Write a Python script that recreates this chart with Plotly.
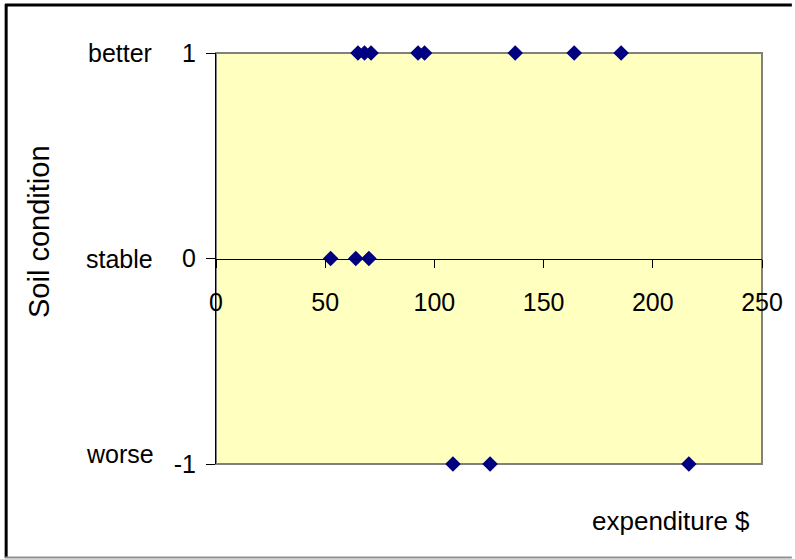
import plotly.graph_objects as go

# Survey results: spending per plot and the reported change in soil condition
expenditure = [65, 68, 71, 92.5, 95.5, 137, 164, 185.5,
               52.5, 64, 70,
               108.5, 125.5, 216.5]
condition = [1, 1, 1, 1, 1, 1, 1, 1,
             0, 0, 0,
             -1, -1, -1]

x_ticks = [0, 50, 100, 150, 200, 250]
y_ticks = [1, 0, -1]
y_tick_text = ["1", "0", "-1"]
condition_names = ["better", "stable", "worse"]

W, H = 795, 559
L, R, T, B = 216, 30, 53, 95
PW, PH = W - L - R, H - T - B


def px_x(p):
    return (p - L) / PW


def px_y(p):
    return (H - B - p) / PH


FONT = "Liberation Sans, Arial"
FS = 25

fig = go.Figure()
fig.add_trace(go.Scatter(
    x=expenditure, y=condition, mode="markers",
    marker=dict(symbol="diamond", size=12, color="#000080",
                line=dict(width=0)),
    cliponaxis=False, showlegend=False,
))

shapes = [
    # plot area frame
    dict(type="rect", xref="paper", yref="paper", x0=0, x1=1, y0=0, y1=1,
         line=dict(color="#808080", width=2), layer="below"),
    # outer chart border
    dict(type="line", xref="paper", yref="paper",
         x0=px_x(4), x1=px_x(W), y0=px_y(5), y1=px_y(5),
         line=dict(color="black", width=3)),
    dict(type="line", xref="paper", yref="paper",
         x0=px_x(5), x1=px_x(5), y0=px_y(4), y1=px_y(H - 1),
         line=dict(color="black", width=3)),
    dict(type="line", xref="paper", yref="paper",
         x0=px_x(4), x1=px_x(W), y0=px_y(H - 1.5), y1=px_y(H - 1.5),
         line=dict(color="#909090", width=2)),
]

annotations = []
for name, yv, shift in zip(condition_names, y_ticks, [0, 0, 10]):
    annotations.append(dict(
        text=name, x=px_x(119), xref="paper", y=yv, yref="y",
        xanchor="center", yanchor="middle", yshift=shift, showarrow=False,
        font=dict(family=FONT, size=FS, color="black")))
annotations.append(dict(
    text="expenditure $", x=px_x(673), y=px_y(521), xref="paper", yref="paper",
    xanchor="center", yanchor="middle", showarrow=False,
    font=dict(family=FONT, size=FS + 1, color="black")))
annotations.append(dict(
    text="Soil condition", x=px_x(38), y=px_y(231), xref="paper", yref="paper",
    xanchor="center", yanchor="middle", textangle=-90, showarrow=False,
    font=dict(family=FONT, size=29, color="black")))

fig.update_layout(
    width=W, height=H,
    margin=dict(l=L, r=R, t=T, b=B, pad=0),
    paper_bgcolor="white", plot_bgcolor="#FFFFC0",
    font=dict(family=FONT, size=FS, color="black"),
    shapes=shapes, annotations=annotations,
    xaxis=dict(range=[0, 250], tickvals=x_ticks, ticks="outside", ticklen=8,
               tickcolor="black", showline=True, linecolor="black", linewidth=1,
               showgrid=False, zeroline=False, anchor="free", position=0.5,
               ticklabelstandoff=13),
    yaxis=dict(range=[-1, 1], tickvals=y_ticks, ticktext=y_tick_text,
               ticks="outside", ticklen=9, tickcolor="black", showline=True,
               linecolor="black", linewidth=1, showgrid=False, zeroline=False,
               ticklabelstandoff=5),
)

fig.write_html("out.html")
